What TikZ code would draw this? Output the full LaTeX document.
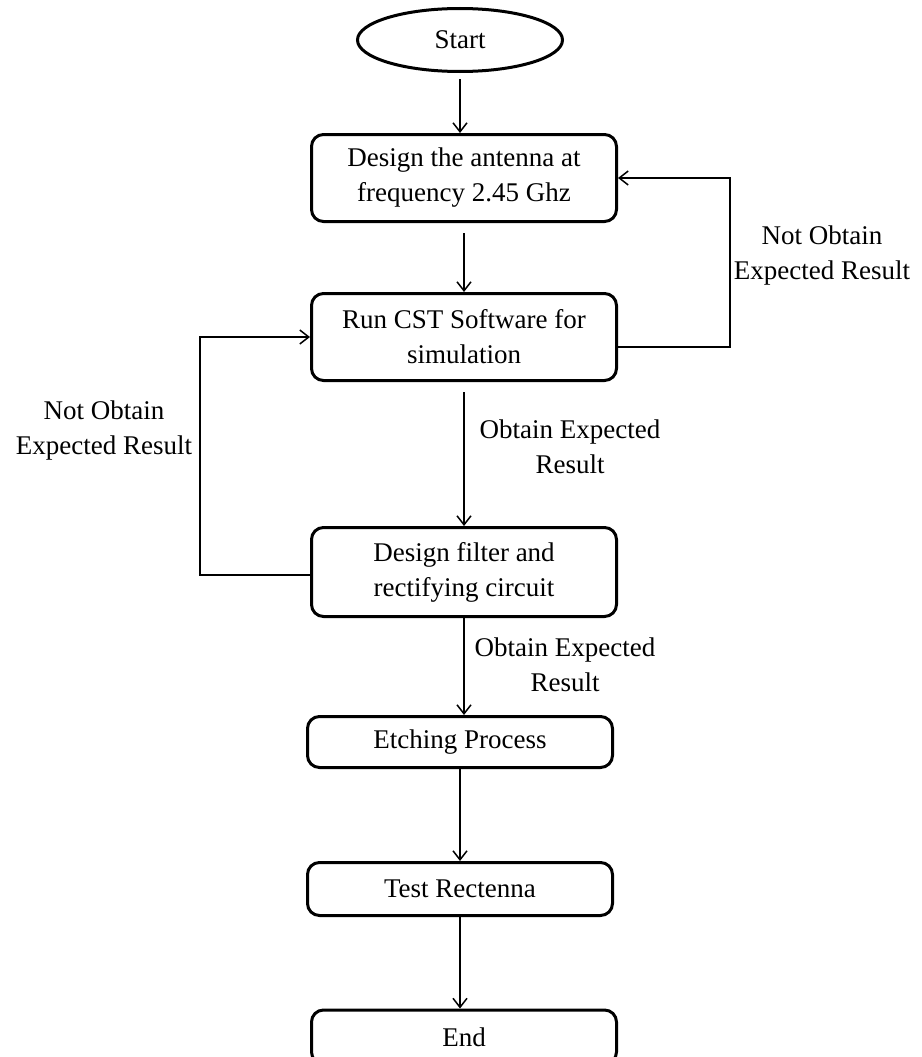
\documentclass[tikz,border=0pt]{standalone}
\usepackage{fontspec}
\setmainfont{Liberation Serif}
\usetikzlibrary{shapes.geometric,arrows.meta}

\begin{document}
\begin{tikzpicture}[x=1pt,y=-1pt,
    every node/.style={font=\fontsize{27}{35}\selectfont},
    box/.style={draw,rounded corners=12pt,line width=3pt,minimum width=305pt,inner sep=0pt,align=center},
    term/.style={draw,ellipse,line width=3pt,minimum width=205pt,minimum height=63pt,inner sep=0pt},
    flow/.style={line width=1.5pt,-{Straight Barb[length=9pt,width=14pt]}},
    lbl/.style={align=center}]
    \useasboundingbox (0,0) rectangle (921,1057);
    % steps
    \node[term] (start) at (460,40) {Start};
    \node[box,minimum height=87pt] (design) at (464,178) {Design the antenna at\\frequency 2.45 Ghz};
    \node[box,minimum height=87pt] (simulate) at (464,337) {Run CST Software for\\simulation};
    \node[box,minimum height=89pt] (filter) at (464,572) {Design filter and\\rectifying circuit};
    \node[box,minimum height=51pt] (etching) at (460,742) {Etching Process};
    \node[box,minimum height=53pt] (testing) at (460,889) {Test Rectenna};
    \node[box,minimum height=54pt] (finish) at (464,1037) {End};
    % turning points of the loops
    \coordinate (rturn) at (730,347);
    \coordinate (lturn) at (200,575);
    % arrows
    \draw[flow,shorten <=6pt] (start) -- (start |- design.north);
    \draw[flow,shorten <=10pt] (design) -- (design |- simulate.north);
    \draw[flow,shorten <=10pt] (simulate) -- (simulate |- filter.north);
    \draw[flow] (filter) -- (filter.south |- etching.north);
    \draw[flow] (etching) -- (etching |- testing.north);
    \draw[flow] (testing) -- (testing |- finish.north);
    \draw[flow] (simulate.east |- rturn) -- (rturn) |- (design.east);
    \draw[flow] (filter.west |- lturn) -- (lturn) |- (simulate.west);
    % labels
    \node[lbl] (rnot) at (822,256) {Not Obtain\\Expected Result};
    \node[lbl] (lnot) at (104,431) {Not Obtain\\Expected Result};
    \node[lbl] (okone) at (570,447) {Obtain Expected\\Result};
    \node[lbl] (oktwo) at (565,665) {Obtain Expected\\Result};
\end{tikzpicture}
\end{document}
